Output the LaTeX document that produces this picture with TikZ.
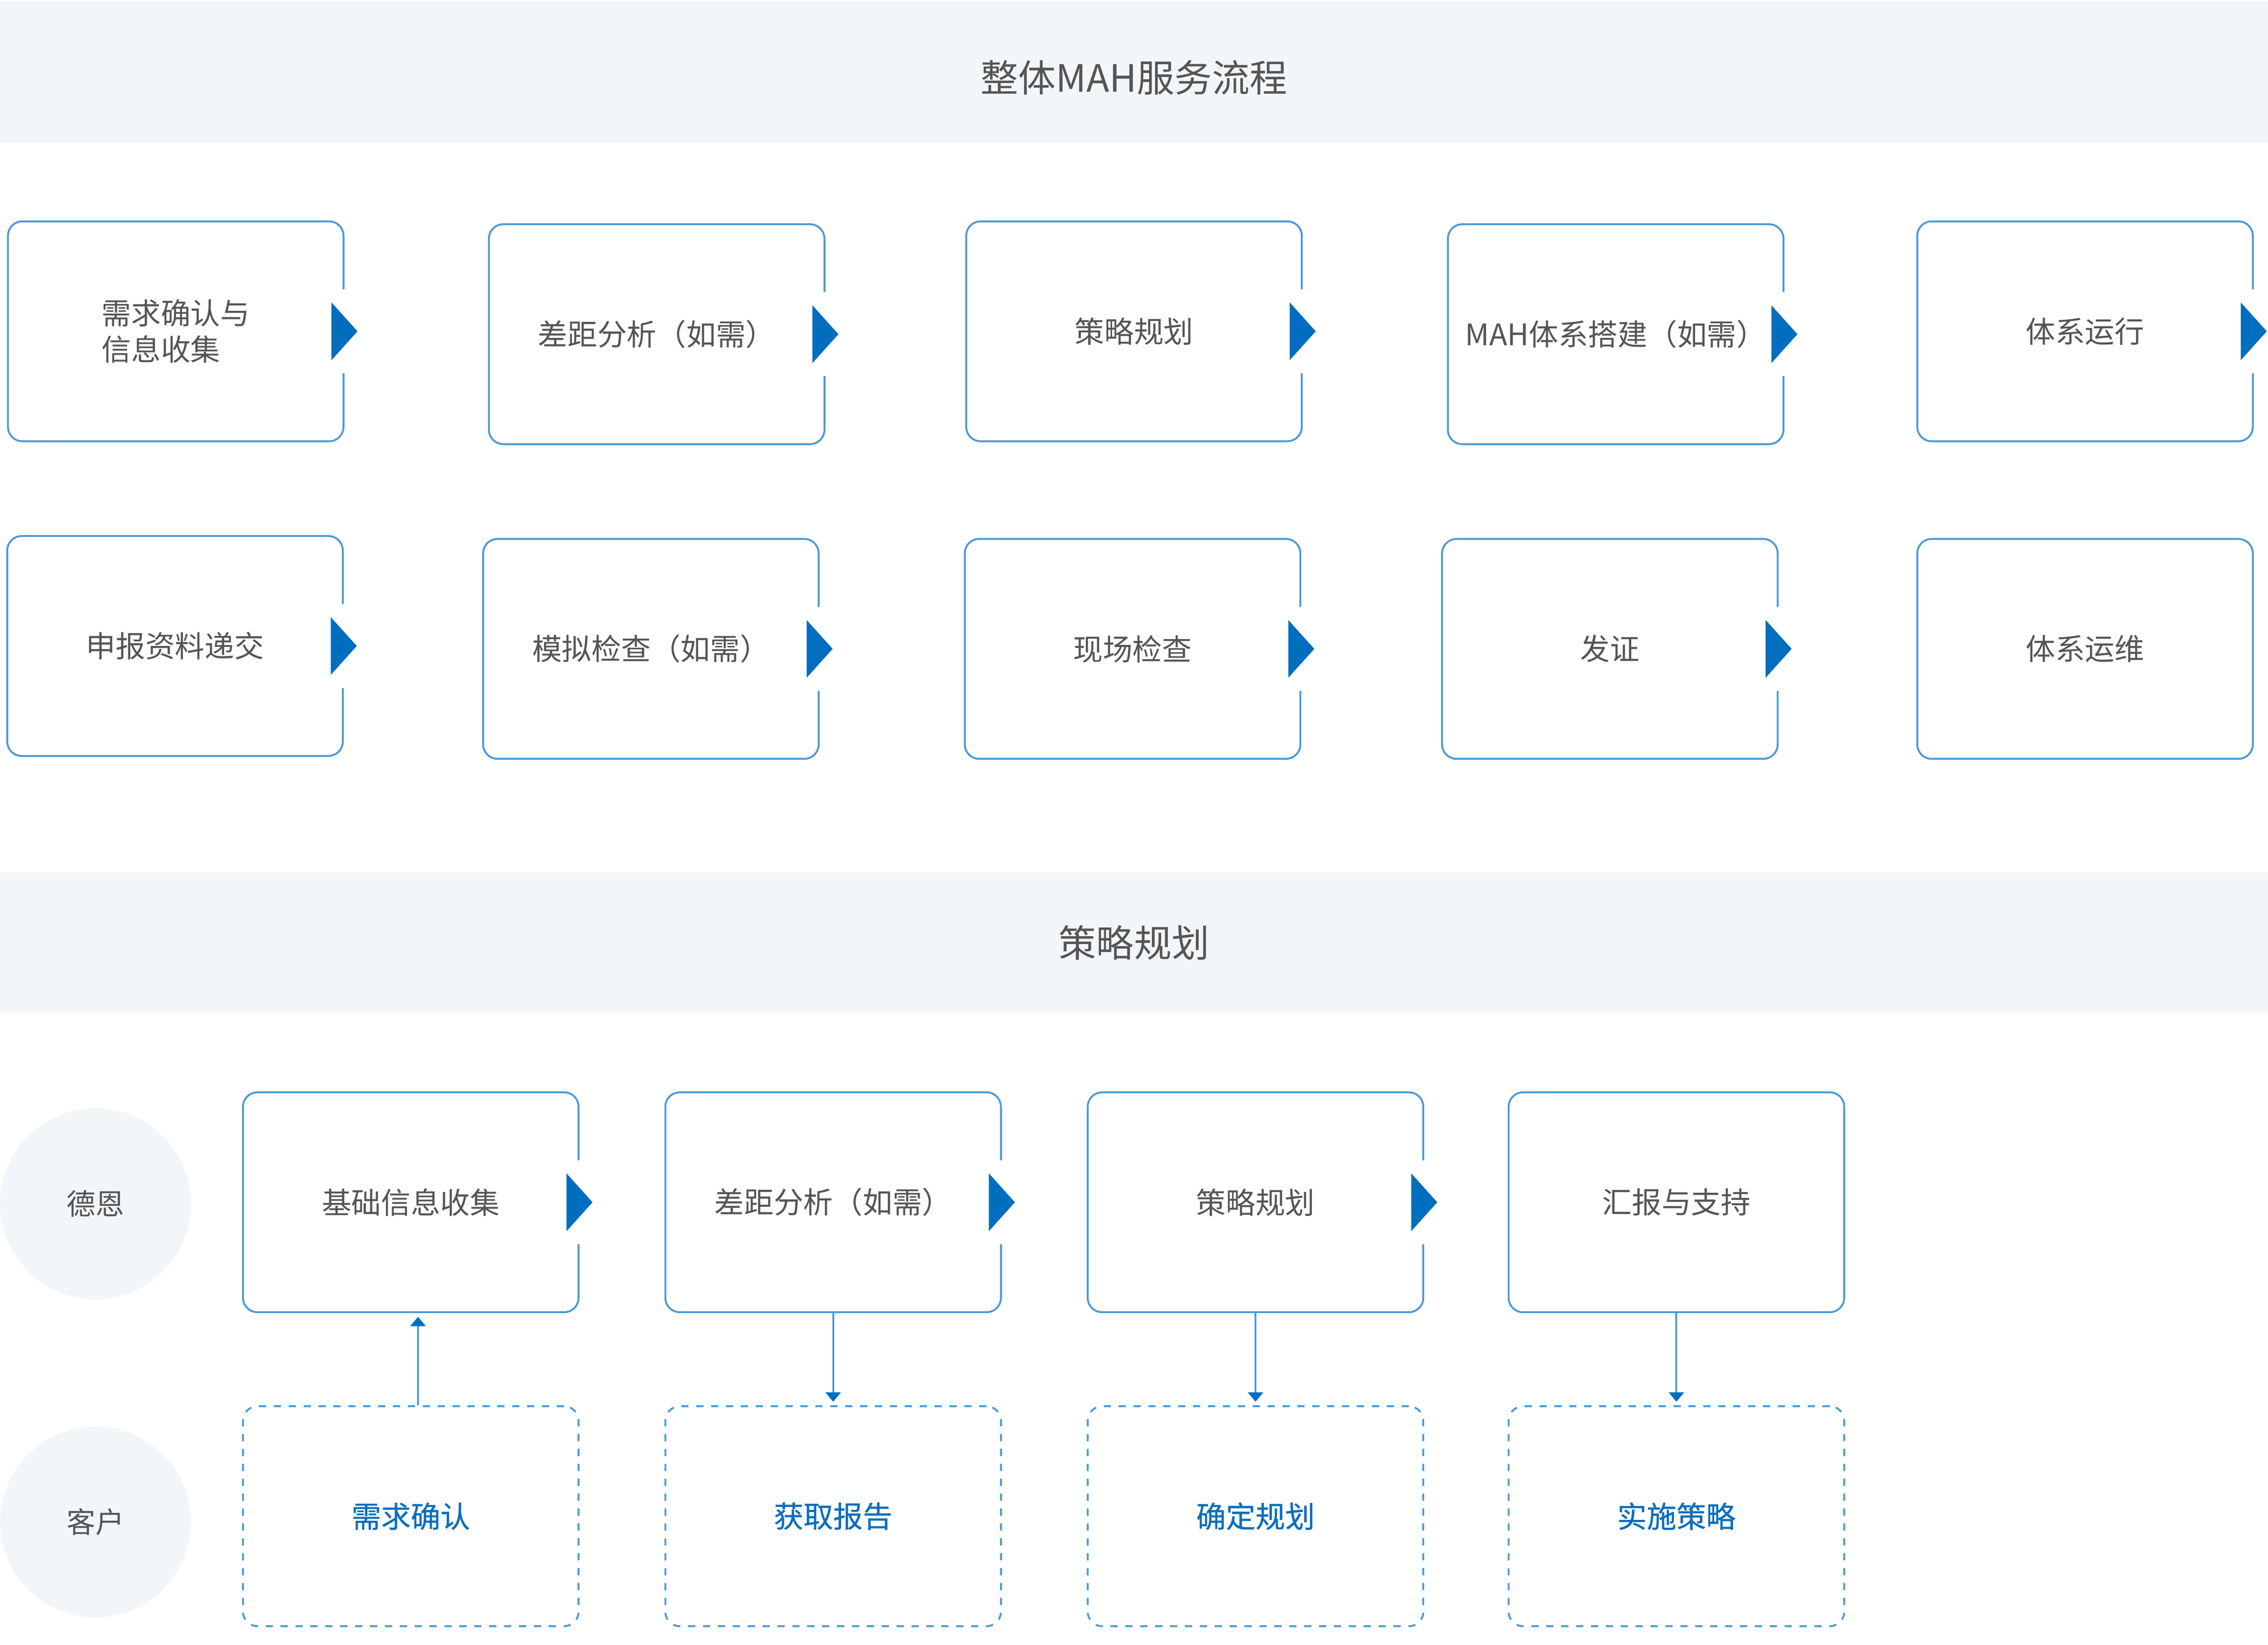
\documentclass[tikz,border=0pt]{standalone}
\usepackage{fontspec}
\setmainfont{Noto Sans CJK SC}
\newfontfamily\cjkmedium[FakeBold=0.6]{Noto Sans CJK SC}
\usetikzlibrary{arrows.meta,calc}
\definecolor{bandgray}{HTML}{F3F6F9}
\definecolor{lineblue}{HTML}{4A9AD4}
\definecolor{tipblue}{HTML}{006EBE}
\definecolor{textgray}{HTML}{555555}
\definecolor{textblue}{HTML}{0A6EBD}
\begin{document}
\begin{tikzpicture}[x=1pt,y=-1pt,
	box/.style={draw=lineblue, line width=1.3pt, rounded corners=10pt, minimum width=232pt, minimum height=152pt, inner sep=0pt, text=textgray, font=\fontsize{20.5}{25}\selectfont},
	dashbox/.style={box, dash pattern=on 5pt off 5.3pt, text=textblue, font=\cjkmedium\fontsize{20.5}{25}\selectfont},
	band/.style={fill=bandgray, minimum width=1568pt, minimum height=98pt, inner sep=0pt, text=textgray, font=\fontsize{26}{30}\selectfont},
	role/.style={circle, fill=bandgray, minimum size=132pt, inner sep=0pt, text=textgray, font=\fontsize{20}{24}\selectfont},
	link/.style={draw=lineblue, line width=1.3pt, shorten >=2.5pt, -{Triangle[width=10.5pt,length=6.5pt,color=tipblue]}}]
	\useasboundingbox (0,0) rectangle (1568,1137);
	\node (Overview) at (784,50) [band, text height=29pt] {整体MAH服务流程};
	\node (Strategy) at (784,651.5) [band, minimum height=97pt] {策略规划};
	% overall flow
	\node (Need) at (121.5,229) [box, align=left] {需求确认与\\信息收集};
	\node (Gap) at (454,231) [box] {差距分析（如需）};
	\node (Plan) at (784,229) [box] {策略规划};
	\node (Build) at (1117,231) [box] {MAH体系搭建（如需）};
	\node (Run) at (1441.5,229) [box] {体系运行};
	\node (Submit) at (121,446.5) [box] {申报资料递交};
	\node (Mock) at (450,448.5) [box] {模拟检查（如需）};
	\node (Site) at (783,448.5) [box] {现场检查};
	\node (Cert) at (1113,448.5) [box] {发证};
	\node (Maint) at (1441.5,448.5) [box] {体系运维};
	% strategy planning
	\node (Deen) at (66,832) [role] {德恩};
	\node (Client) at (66,1052) [role] {客户};
	\node (Collect) at (284,831) [box] {基础信息收集};
	\node (Gap2) at (576,831) [box] {差距分析（如需）};
	\node (Plan2) at (868,831) [box] {策略规划};
	\node (Report) at (1159,831) [box] {汇报与支持};
	\node (Confirm) at (284,1048) [dashbox] {需求确认};
	\node (Obtain) at (576,1048) [dashbox] {获取报告};
	\node (Decide) at (868,1048) [dashbox] {确定规划};
	\node (Implement) at (1159,1048) [dashbox] {实施策略};
	\foreach \n in {Need,Gap,Plan,Build,Run,Submit,Mock,Site,Cert,Collect,Gap2,Plan2}{
		\fill[white] ($(\n.east)+(-3,-29)$) rectangle ($(\n.east)+(3,29)$);
		\fill[tipblue] ($(\n.east)+(-9,-20)$) -- ($(\n.east)+(9,0)$) -- ($(\n.east)+(-9,20)$) -- cycle;
	}
	\draw[link] ([xshift=5pt]Confirm.north) -- ([xshift=5pt]Collect.south);
	\draw[link] (Gap2.south) -- (Obtain.north);
	\draw[link] (Plan2.south) -- (Decide.north);
	\draw[link] (Report.south) -- (Implement.north);
\end{tikzpicture}
\end{document}
